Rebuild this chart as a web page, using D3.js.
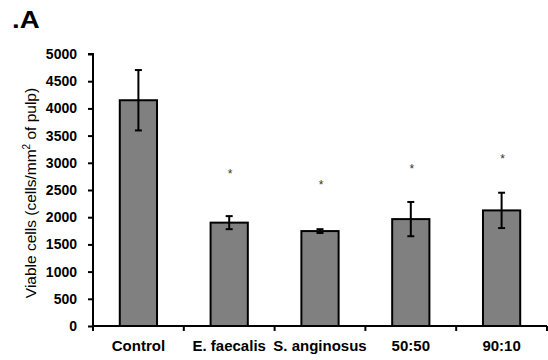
<!DOCTYPE html>
<html>
<head>
<meta charset="utf-8">
<script src="https://cdn.jsdelivr.net/npm/d3@7"></script>
<style>
  body { margin: 0; background: #fff; }
  svg { display: block; font-family: "Liberation Sans", Arial, sans-serif; }
</style>
</head>
<body>
<script>
// values
var groups = ['Control', 'E. faecalis', 'S. anginosus', '50:50', '90:10'];
var means = [4150, 1900, 1745, 1965, 2125];
var errs = [555, 120, 35, 315, 325];
var starLevel = [null, 2840, 2630, 2925, 3110];
var yTicks = [0, 500, 1000, 1500, 2000, 2500, 3000, 3500, 4000, 4500, 5000];

var W = 548, H = 360;
var margin = { top: 54, right: 1, bottom: 34, left: 93 };

var svg = d3.select('body').append('svg')
  .attr('width', W)
  .attr('height', H);

var x = d3.scaleBand()
  .domain(groups)
  .range([margin.left, W - margin.right])
  .padding(0);

var y = d3.scaleLinear()
  .domain([0, 5000])
  .range([H - margin.bottom, margin.top]);

var barW = x.bandwidth() * 0.41;

// panel letter
svg.append('text')
  .attr('transform', 'translate(12,28) scale(1.2,1)')
  .style('font-size', '23px')
  .style('font-weight', 'bold')
  .text('.A');

// bars
svg.selectAll('rect.bar')
  .data(groups)
  .enter()
  .append('rect')
  .attr('class', 'bar')
  .attr('x', function(d) { return x(d) + x.bandwidth() / 2 - barW / 2; })
  .attr('y', function(d, i) { return y(means[i]); })
  .attr('width', barW)
  .attr('height', function(d, i) { return y(0) - y(means[i]); })
  .attr('fill', '#808080')
  .attr('stroke', '#000')
  .attr('stroke-width', 2);

// error bars
var eb = svg.selectAll('g.err')
  .data(groups)
  .enter()
  .append('g')
  .attr('class', 'err')
  .attr('stroke', '#000')
  .attr('stroke-width', 2);

eb.append('line')
  .attr('x1', function(d) { return x(d) + x.bandwidth() / 2; })
  .attr('x2', function(d) { return x(d) + x.bandwidth() / 2; })
  .attr('y1', function(d, i) { return y(means[i] - errs[i]); })
  .attr('y2', function(d, i) { return y(means[i] + errs[i]); });

[1, -1].forEach(function(s) {
  eb.append('line')
    .attr('x1', function(d) { return x(d) + x.bandwidth() / 2 - 3.5; })
    .attr('x2', function(d) { return x(d) + x.bandwidth() / 2 + 3.5; })
    .attr('y1', function(d, i) { return y(means[i] + s * errs[i]); })
    .attr('y2', function(d, i) { return y(means[i] + s * errs[i]); });
});

// significance stars
svg.selectAll('text.star')
  .data(groups.filter(function(d, i) { return starLevel[i] != null; }))
  .enter()
  .append('text')
  .attr('class', 'star')
  .attr('x', function(d) { return x(d) + x.bandwidth() / 2 + 1; })
  .attr('y', function(d) { return y(starLevel[groups.indexOf(d)]) + 6; })
  .attr('text-anchor', 'middle')
  .style('font-size', '12px')
  .style('fill', '#333')
  .text('*');

// y axis
var yAxis = d3.axisLeft(y)
  .tickValues(yTicks)
  .tickSize(5)
  .tickPadding(11)
  .tickFormat(d3.format('d'));

var gy = svg.append('g')
  .attr('transform', 'translate(' + margin.left + ',0)')
  .call(yAxis);
gy.select('.domain').attr('stroke-width', 2).attr('d', 'M-5,' + y(5000) + 'H0V' + y(0));
gy.selectAll('.tick line').attr('stroke-width', 2);
gy.selectAll('.tick text')
  .style('font-size', '14px')
  .style('font-weight', 'bold')
  .attr('fill', '#000');

// x axis
var xAxis = d3.axisBottom(x).tickSize(0).tickPadding(14);
var gx = svg.append('g')
  .attr('transform', 'translate(0,' + y(0) + ')')
  .call(xAxis);
gx.select('.domain').attr('stroke-width', 2).attr('d', 'M' + margin.left + ',0H' + (W - margin.right));
gx.selectAll('.tick text')
  .style('font-size', '15px')
  .style('font-weight', 'bold')
  .attr('fill', '#000');

// boundary ticks between categories
gx.selectAll('line.sep')
  .data(groups.concat(['end']))
  .enter()
  .append('line')
  .attr('class', 'sep')
  .attr('x1', function(d) { return d === 'end' ? W - margin.right : x(d); })
  .attr('x2', function(d) { return d === 'end' ? W - margin.right : x(d); })
  .attr('y1', 0)
  .attr('y2', 5)
  .attr('stroke', '#000')
  .attr('stroke-width', 2);

// y label
var yl = svg.append('text')
  .attr('transform', 'translate(36,' + ((y(0) + y(5000)) / 2 + 3) + ') rotate(-90)')
  .attr('text-anchor', 'middle')
  .style('font-size', '15.5px');
yl.append('tspan').text('Viable cells (cells/mm');
yl.append('tspan').attr('dy', -6).style('font-size', '10px').text('2');
yl.append('tspan').attr('dy', 6).text(' of pulp)');
</script>
</body>
</html>
